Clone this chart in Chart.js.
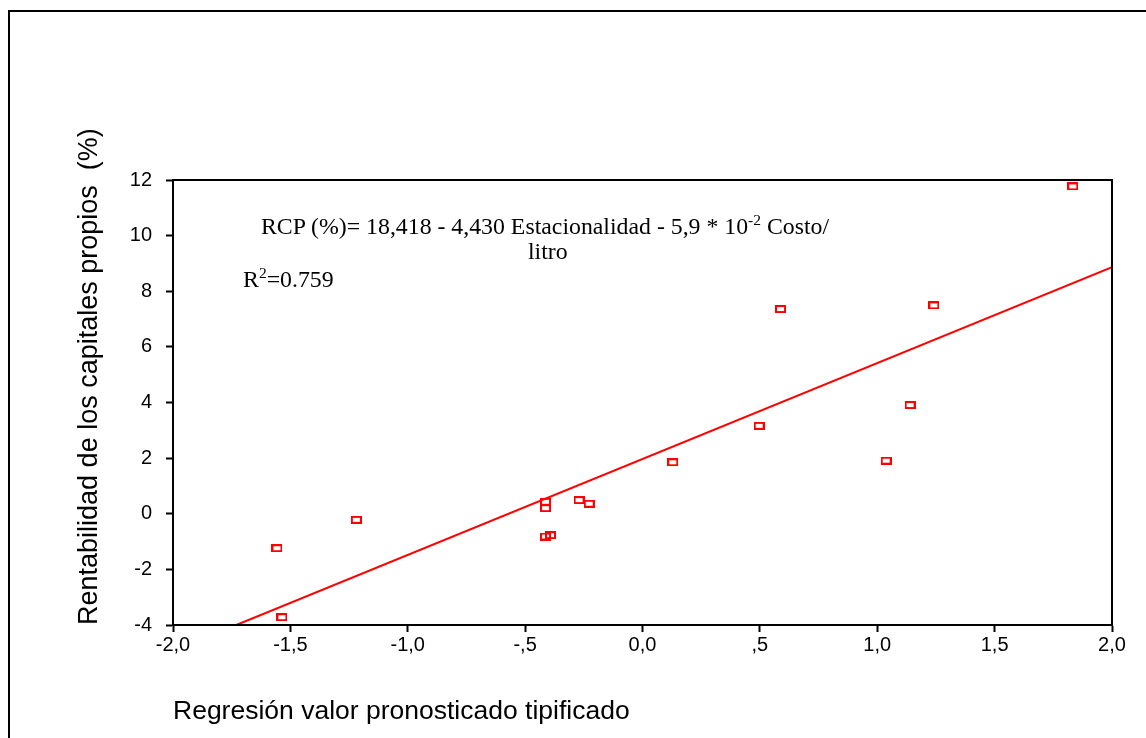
<!DOCTYPE html>
<html>
<head>
<meta charset="utf-8">
<title>Rentabilidad vs regresión</title>
<script src="https://cdn.jsdelivr.net/npm/chart.js@4/dist/chart.umd.min.js"></script>
<style>
    html, body { margin: 0; padding: 0; background: #fff; overflow: hidden; }
    #wrap { position: relative; width: 1146px; height: 738px; }
    #frame {
        position: absolute; left: 8px; top: 10px;
        width: 2000px; height: 2000px;
        border: 2px solid #000;
    }
    canvas { position: absolute; left: 0; top: 0; }
    .note {
        position: absolute;
        font-family: "Liberation Serif", "Times New Roman", serif;
        font-size: 23.8px;
        line-height: 1;
        white-space: pre;
        color: #000;
    }
    .note sup {
        font-size: 15.5px;
        vertical-align: baseline;
        position: relative;
        top: -9px;
    }
</style>
</head>
<body>
<div id="wrap">
    <div id="frame"></div>
    <canvas id="chart" width="1146" height="738"></canvas>
    <div class="note" style="left:261px; top:215px;">RCP (%)= 18,418 - 4,430 Estacionalidad - 5,9 * 10<sup>-2</sup> Costo/</div>
    <div class="note" style="left:528px; top:240px;">litro</div>
    <div class="note" style="left:243px; top:268px;">R<sup>2</sup>=0.759</div>
</div>

<script>
// Datos
const xValues = [-1.557, -1.536, -1.219, -0.413, -0.413, -0.413, -0.392, -0.270, -0.227,
                 0.129, 0.497, 0.588, 1.038, 1.140, 1.241, 1.833];
const yValues = [-1.24, -3.72, -0.22, 0.43, 0.20, -0.82, -0.77, 0.49, 0.36,
                 1.85, 3.16, 7.36, 1.91, 3.91, 7.49, 11.77];

// Recta de regresión (extremos visibles)
const fitX = [-1.73, 2.0];
const fitY = [-4.0, 8.87];

// Etiquetas de ejes
const xTickValues = [-2, -1.5, -1, -0.5, 0, 0.5, 1, 1.5, 2];
const xTickLabels = ['-2,0', '-1,5', '-1,0', '-,5', '0,0', ',5', '1,0', '1,5', '2,0'];
const yTickLabels = ['-4', '-2', '0', '2', '4', '6', '8', '10', '12'];

const RED = '#ff0000';
const FONT = 'Liberation Sans, Arial, sans-serif';

// Marcador rectangular hueco (más ancho que alto)
function makeMarker() {
    const c = document.createElement('canvas');
    c.width = 11;
    c.height = 8;
    const g = c.getContext('2d');
    g.strokeStyle = RED;
    g.lineWidth = 2;
    g.strokeRect(1, 1, 9, 6);
    return c;
}

// Marco del área de trazado
const plotBox = {
    id: 'plotBox',
    afterDraw(chart) {
        const { ctx, chartArea: a } = chart;
        ctx.save();
        ctx.strokeStyle = '#000';
        ctx.lineWidth = 2;
        ctx.strokeRect(a.left, a.top, a.right - a.left, a.bottom - a.top);
        ctx.restore();
    }
};

function init() {
    const points = xValues.map((x, i) => ({ x, y: yValues[i] }));
    const line = fitX.map((x, i) => ({ x, y: fitY[i] }));

    new Chart(document.getElementById('chart'), {
        type: 'scatter',
        data: {
            datasets: [
                {
                    label: 'Regresión',
                    data: line,
                    showLine: true,
                    borderColor: RED,
                    borderWidth: 2,
                    pointRadius: 0,
                    fill: false
                },
                {
                    label: 'Casos',
                    data: points,
                    pointStyle: makeMarker(),
                    pointRadius: 5
                }
            ]
        },
        options: {
            responsive: false,
            animation: false,
            devicePixelRatio: 1,
            layout: { padding: { left: 0, top: 180, right: 34, bottom: 0 } },
            plugins: {
                legend: { display: false },
                tooltip: { enabled: false }
            },
            scales: {
                x: {
                    type: 'linear',
                    min: -2,
                    max: 2,
                    afterFit(scale) { scale.height = 113; },
                    afterBuildTicks(scale) {
                        scale.ticks = xTickValues.map(v => ({ value: v }));
                    },
                    ticks: {
                        autoSkip: false,
                        maxRotation: 0,
                        padding: 1,
                        color: '#000',
                        font: { family: FONT, size: 20 },
                        callback: (v) => xTickLabels[xTickValues.indexOf(v)]
                    },
                    grid: {
                        drawOnChartArea: false,
                        tickLength: 7,
                        tickWidth: 2,
                        tickColor: '#000'
                    },
                    border: { display: true, color: '#000', width: 2 },
                    title: {
                        display: true,
                        text: 'Regresión valor pronosticado tipificado',
                        align: 'start',
                        color: '#000',
                        font: { family: FONT, size: 26.5 },
                        padding: { top: 0, bottom: 10 }
                    }
                },
                y: {
                    type: 'linear',
                    min: -4,
                    max: 12,
                    afterFit(scale) { scale.width = 173; },
                    ticks: {
                        stepSize: 2,
                        padding: 14,
                        color: '#000',
                        font: { family: FONT, size: 20 },
                        callback: (v) => yTickLabels[(v + 4) / 2]
                    },
                    grid: {
                        drawOnChartArea: false,
                        tickLength: 7,
                        tickWidth: 2,
                        tickColor: '#000'
                    },
                    border: { display: true, color: '#000', width: 2 },
                    title: {
                        display: true,
                        text: 'Rentabilidad de los capitales propios  (%)',
                        align: 'start',
                        color: '#000',
                        font: { family: FONT, size: 27 },
                        padding: { top: 73, bottom: 0 }
                    }
                }
            }
        },
        plugins: [plotBox]
    });
}

document.addEventListener('DOMContentLoaded', init);
</script>
</body>
</html>
